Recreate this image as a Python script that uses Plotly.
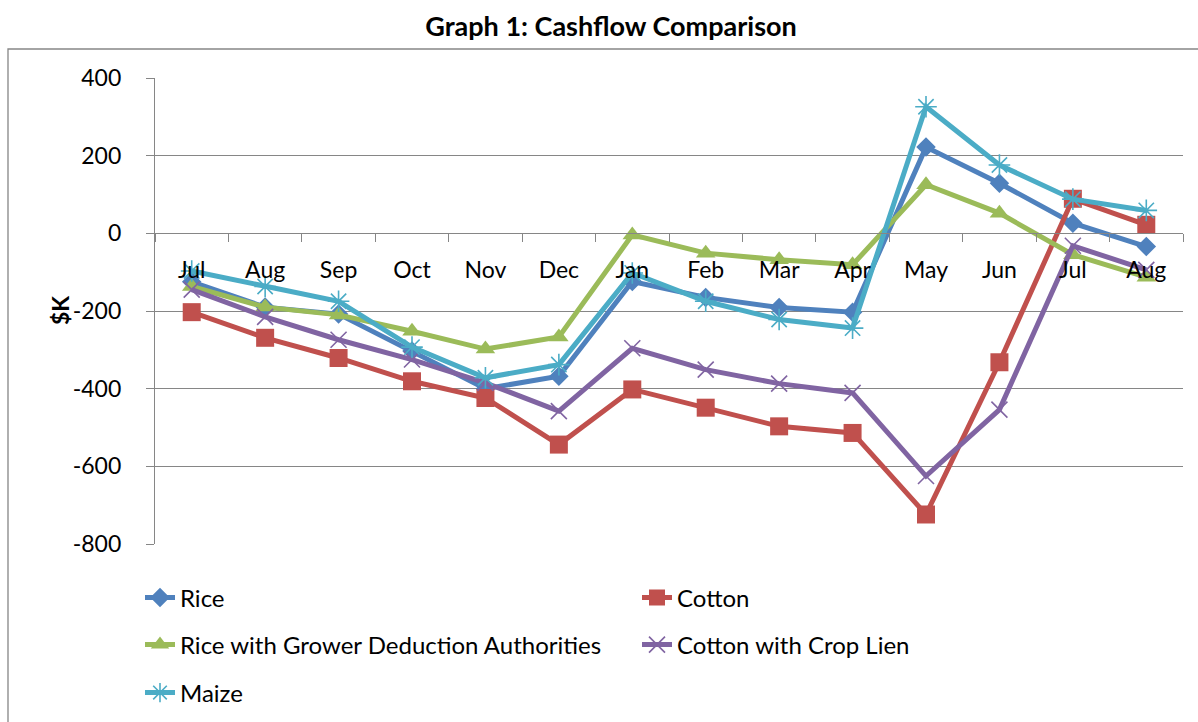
import plotly.graph_objects as go

# ---- data ----
months = ["Jul", "Aug", "Sep", "Oct", "Nov", "Dec", "Jan", "Feb", "Mar", "Apr", "May", "Jun", "Jul", "Aug"]
rice = [-125, -190, -208, -303, -400, -368, -124, -165, -191, -203, 222, 129, 26, -34]
cotton = [-203, -269, -321, -381, -424, -544, -402, -449, -497, -514, -724, -332, 89, 22]
rice_gda = [-137, -190, -210, -252, -298, -267, -4, -51, -68, -81, 125, 52, -55, -113]
cotton_lien = [-145, -215, -274, -325, -385, -458, -296, -351, -387, -411, -625, -454, -32, -94]
maize = [-97, -137, -175, -293, -372, -338, -102, -175, -222, -244, 326, 176, 88, 59]

series_names = ["Rice", "Cotton", "Rice with Grower Deduction Authorities", "Cotton with Crop Lien", "Maize"]
title_text = "Graph 1: Cashflow Comparison"
y_title = "$K"
y_ticks = [-800, -600, -400, -200, 0, 200, 400]
y_ticklabels = ["-800", "-600", "-400", "-200", "0", "200", "400"]

# ---- styling ----
FONT = "Lato"
GRID = "#868686"
colors = ["#4F81BD", "#C0504D", "#9BBB59", "#8064A2", "#4BACC6"]
symbols = ["diamond", "square", "triangle-up", "x-thin-open", "asterisk-open"]
sizes = [15, 18, 17, 16, 18]
legends = ["legend", "legend", "legend2", "legend2", "legend3"]

x = list(range(len(months)))
values = [rice, cotton, rice_gda, cotton_lien, maize]

fig = go.Figure()
for name, vals, col, sym, sz, lg in zip(series_names, values, colors, symbols, sizes, legends):
    open_sym = sym.endswith("-open")
    fig.add_trace(go.Scatter(
        x=x, y=vals, name=name, mode="lines+markers",
        line=dict(color=col, width=5),
        marker=dict(symbol=sym, size=sz, color=col,
                    line=dict(color=col, width=1.6 if open_sym else 0)),
        legend=lg,
    ))

y_range = [min(y_ticks), max(y_ticks)]
zero_pos = (0 - y_range[0]) / (y_range[1] - y_range[0])
W, H = 1198, 722
L, R, T, B = 155, 15, 78, 178
pw = W - L - R
ph = H - T - B

def px_x(p):
    return (p - L) / pw

def px_y(p):
    return 1 - (p - T) / ph

legend_common = dict(orientation="h", xanchor="left", yanchor="middle",
                     font=dict(family=FONT, size=24, color="black"),
                     bgcolor="rgba(0,0,0,0)", entrywidth=452, entrywidthmode="pixels",
                     itemclick=False, itemdoubleclick=False)

fig.update_layout(
    width=W, height=H,
    margin=dict(l=L, r=R, t=T, b=B, autoexpand=False),
    plot_bgcolor="white", paper_bgcolor="white",
    font=dict(family=FONT, size=23, color="black"),
    title=dict(text="<b>" + title_text + "</b>", x=611 / W, xanchor="center",
               y=1 - 27 / H, yanchor="middle", xref="container",
               font=dict(family=FONT, size=27, color="black")),
    xaxis=dict(range=[-0.5, len(months) - 0.5], tickmode="array", tickvals=x, ticktext=months,
               ticks="outside", ticklen=8, tickcolor="rgba(0,0,0,0)",
               showline=True, linecolor=GRID, linewidth=1.3,
               anchor="free", position=zero_pos, showgrid=False, zeroline=False,
               ticklabelstandoff=8,
               tickfont=dict(family=FONT, size=23, color="black"),
               minor=dict(tickmode="array", tickvals=[i - 0.5 for i in range(len(months) + 1)],
                          ticks="outside", ticklen=8, tickcolor=GRID, tickwidth=1.3, showgrid=False)),
    yaxis=dict(range=y_range, tickmode="array", tickvals=y_ticks, ticktext=y_ticklabels,
               showgrid=True, gridcolor=GRID, gridwidth=1.3,
               showline=True, linecolor=GRID, linewidth=1.3, ticks="outside", ticklen=8,
               tickcolor=GRID, tickwidth=1.3, zeroline=False, ticklabelstandoff=20,
               tickfont=dict(family=FONT, size=23, color="black")),
    legend=dict(x=px_x(140), y=px_y(598), **legend_common),
    legend2=dict(x=px_x(140), y=px_y(645), **legend_common),
    legend3=dict(x=px_x(140), y=px_y(693), **legend_common),
    shapes=[dict(type="rect", xref="paper", yref="paper",
                 x0=px_x(8), x1=px_x(1210), y0=px_y(740), y1=px_y(49),
                 line=dict(color=GRID, width=1.3), fillcolor="rgba(0,0,0,0)", layer="below")],
    annotations=[dict(text="<b>" + y_title + "</b>", xref="paper", yref="paper",
                      x=px_x(60), y=0.5, xanchor="center", yanchor="middle", textangle=-90,
                      showarrow=False, font=dict(family=FONT, size=23, color="black"))],
)

fig.write_html("out.html")
